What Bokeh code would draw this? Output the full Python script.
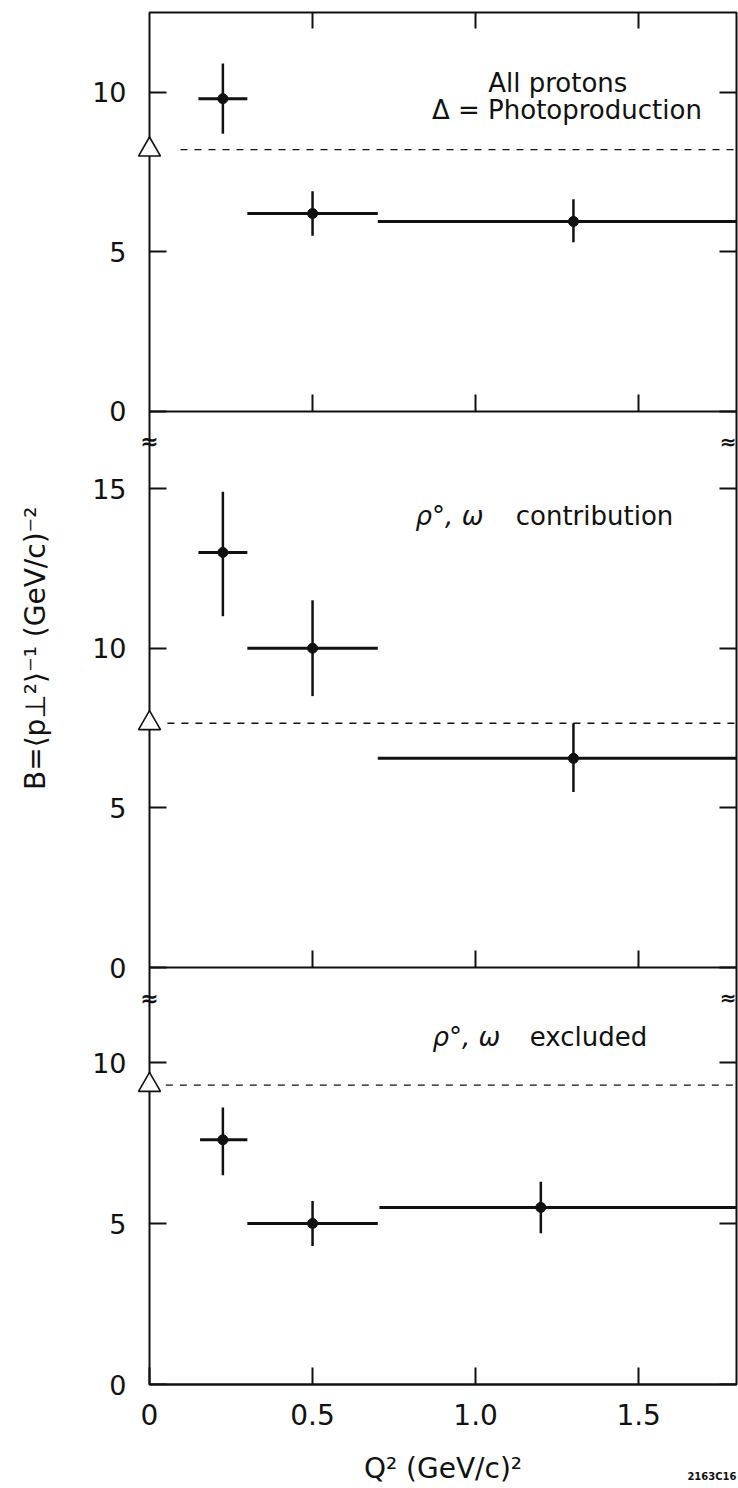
import math
from bokeh.plotting import figure
from bokeh.models import Range1d, LinearAxis, FixedTicker
from bokeh.core.properties import value
from bokeh.embed import file_html
from bokeh.resources import INLINE

# ---------------- data ----------------
x_ticks = [0, 0.5, 1, 1.5]
x_tick_labels = ["0", "0.5", "1.0", "1.5"]
inner_x_ticks = [0.5, 1, 1.5]

photo_q2 = [0.0]

top_q2 = [0.225, 0.50, 1.30]
top_q2_lo = [0.15, 0.30, 0.70]
top_q2_hi = [0.30, 0.70, 1.80]
top_b = [9.8, 6.2, 5.95]
top_b_lo = [8.7, 5.5, 5.3]
top_b_hi = [10.9, 6.9, 6.65]
top_photo = [8.2]
top_yticks = [0, 5, 10]
top_ytick_labels = ["0", "5", "10"]

mid_q2 = [0.225, 0.50, 1.30]
mid_q2_lo = [0.15, 0.30, 0.70]
mid_q2_hi = [0.30, 0.70, 1.80]
mid_b = [13.0, 10.0, 6.55]
mid_b_lo = [11.0, 8.5, 5.5]
mid_b_hi = [14.9, 11.5, 7.65]
mid_photo = [7.65]
mid_yticks = [0, 5, 10, 15]
mid_ytick_labels = ["0", "5", "10", "15"]

bot_q2 = [0.225, 0.50, 1.20]
bot_q2_lo = [0.155, 0.30, 0.705]
bot_q2_hi = [0.30, 0.70, 1.80]
bot_b = [7.6, 5.0, 5.5]
bot_b_lo = [6.5, 4.3, 4.7]
bot_b_hi = [8.6, 5.7, 6.3]
bot_photo = [9.3]
bot_yticks = [0, 5, 10]
bot_ytick_labels = ["0", "5", "10"]

# ---------------- layout / style ----------------
INK = "#111111"
FONT = "DejaVu Sans"
X_MAX = 1.8

p = figure(width=738, height=1488,
           x_range=Range1d(0, X_MAX), y_range=Range1d(0, 42.61),
           output_backend="svg", toolbar_location=None,
           x_axis_location=None, y_axis_location=None,
           min_border_left=149, min_border_right=2,
           min_border_top=12, min_border_bottom=104)
p.extra_y_ranges = {"top": Range1d(-30.5, 12.5), "mid": Range1d(-13.06, 29.91)}
p.outline_line_color = INK
p.outline_line_width = 2
p.background_fill_color = "white"
p.border_fill_color = "white"
p.xgrid.visible = False
p.ygrid.visible = False


def txt(x, y, text, rng="default", align="left", style="normal", size="26px",
        baseline="alphabetic", angle=0.0, x_offset=0, y_offset=0):
    r = p.text(x=x, y=y, text=text, y_range_name=rng,
               text_align=align, text_baseline=baseline,
               text_font=value(FONT), text_font_size=value(size),
               text_font_style=style, text_color=INK, angle=angle,
               x_offset=x_offset, y_offset=y_offset)
    r.level = "overlay"
    return r


panels = [
    ("top", 12.5, top_yticks, top_ytick_labels, top_q2, top_q2_lo, top_q2_hi,
     top_b, top_b_lo, top_b_hi, top_photo, 0.095),
    ("mid", 17.41, mid_yticks, mid_ytick_labels, mid_q2, mid_q2_lo, mid_q2_hi,
     mid_b, mid_b_lo, mid_b_hi, mid_photo, 0.055),
    ("default", 12.95, bot_yticks, bot_ytick_labels, bot_q2, bot_q2_lo, bot_q2_hi,
     bot_b, bot_b_lo, bot_b_hi, bot_photo, 0.05),
]

for (name, ymax, yticks, ylabels, q2, q2lo, q2hi, b, blo, bhi,
     photo, dash_start) in panels:
    # left axis: ticks inside
    la = LinearAxis(y_range_name=name, fixed_location=0,
                    ticker=FixedTicker(ticks=yticks),
                    major_tick_in=17, major_tick_out=0, major_tick_line_width=2,
                    major_tick_line_color=INK, minor_tick_line_color=None,
                    axis_line_color=None, major_label_text_color=None)
    p.add_layout(la, "left")
    # tick labels of this panel
    txt([0] * len(yticks), yticks, ylabels, name, align="right", size="27px",
        baseline="middle", x_offset=-23)
    # right axis: ticks inside only
    ra = LinearAxis(y_range_name=name, fixed_location=X_MAX,
                    ticker=FixedTicker(ticks=yticks),
                    major_tick_in=17, major_tick_out=0, major_tick_line_width=2,
                    major_tick_line_color=INK, minor_tick_line_color=None,
                    axis_line_color=None, major_label_text_color=None)
    p.add_layout(ra, "right")
    if name != "default":
        # panel floor with upward ticks
        ba = LinearAxis(y_range_name=name, fixed_location=0,
                        ticker=FixedTicker(ticks=inner_x_ticks),
                        major_tick_in=17, major_tick_out=0, major_tick_line_width=2,
                        major_tick_line_color=INK, minor_tick_line_color=None,
                        axis_line_color=INK, axis_line_width=2,
                        major_label_text_color=None)
        p.add_layout(ba, "below")
    if name == "top":
        ta = LinearAxis(y_range_name=name, fixed_location=ymax,
                        ticker=FixedTicker(ticks=inner_x_ticks),
                        major_tick_in=16, major_tick_out=0, major_tick_line_width=2,
                        major_tick_line_color=INK, minor_tick_line_color=None,
                        axis_line_color=None, major_label_text_color=None)
        p.add_layout(ta, "above")

    # photoproduction reference
    p.segment(x0=[dash_start], y0=photo, x1=[X_MAX], y1=photo, y_range_name=name,
              line_color=INK, line_width=1.3, line_dash="7 7")
    tri = p.scatter(x=photo_q2, y=photo, y_range_name=name, marker="triangle", size=22,
                    fill_color="white", line_color=INK, line_width=1.6)
    tri.level = "overlay"

    # data with error bars
    p.segment(x0=q2lo, y0=b, x1=q2hi, y1=b, y_range_name=name, line_color=INK, line_width=3)
    p.segment(x0=q2, y0=blo, x1=q2, y1=bhi, y_range_name=name, line_color=INK, line_width=2.5)
    p.scatter(x=q2, y=b, y_range_name=name, marker="circle", size=10,
              fill_color=INK, line_color=INK)

    # axis break marks
    if name != "top":
        txt([0], [ymax - 0.95], ["≈"], name, align="center", style="bold",
            size="22px", baseline="middle")
        txt([X_MAX], [ymax - 0.95], ["≈"], name, align="right", style="bold",
            size="20px", baseline="middle", x_offset=0)

# bottom x axis with labels
xa = LinearAxis(ticker=FixedTicker(ticks=x_ticks),
                major_label_overrides=dict(zip(x_ticks, x_tick_labels)),
                major_tick_in=17, major_tick_out=0, major_tick_line_width=2,
                major_tick_line_color=INK, minor_tick_line_color=None,
                axis_line_color=INK, axis_line_width=2,
                major_label_text_font=FONT, major_label_text_font_size="28px",
                major_label_text_color=INK, major_label_standoff=19,
                axis_label="Q² (GeV/c)²", axis_label_text_font=FONT,
                axis_label_text_font_size="28px", axis_label_text_font_style="normal",
                axis_label_text_color=INK, axis_label_standoff=24)
p.add_layout(xa, "below")

txt([1.252], [10.28], ["All protons"], "top", align="center")
txt([1.28], [9.45], ["Δ = Photoproduction"], "top", align="center")
txt([0.816], [14.13], ["ρ°, ω"], "mid", style="italic")
txt([1.123], [14.13], ["contribution"], "mid")
txt([0.868], [10.78], ["ρ°, ω"], "default", style="italic")
txt([1.166], [10.78], ["excluded"], "default")

# y-axis title
txt([-0.35], [10.0], ["B=⟨p⊥²⟩⁻¹ (GeV/c)⁻²"], "mid", align="center", size="28px",
    baseline="middle", angle=math.pi / 2)

# figure code
txt([X_MAX], [-2.85], ["2163C16"], "default", align="right", style="bold", size="10px",
    baseline="middle")

open("out.html", "w").write(file_html(p, INLINE))
